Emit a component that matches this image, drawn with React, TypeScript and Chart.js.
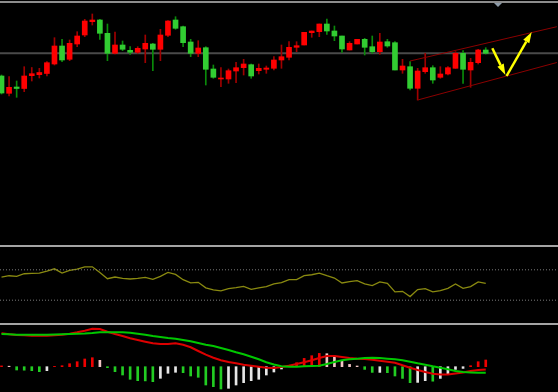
import React, { useEffect, useRef } from "react";
import { Chart, registerables } from "chart.js";
Chart.register(...registerables);

// ---- price candles (index points) ----
const opens = [1174, 1156.7, 1163, 1161.5, 1174.3, 1175.3, 1176.5, 1186, 1204, 1190.7,
  1206, 1215, 1228.3, 1230, 1216.7, 1196.7, 1205, 1199.7, 1197.7, 1201,
  1206, 1200.7, 1214.7, 1230, 1223.3, 1208, 1196.7, 1202.3, 1181, 1171,
  1171, 1179, 1182.3, 1185.3, 1179.3, 1180.7, 1181.7, 1190, 1192.7, 1202.7,
  1205, 1217.3, 1218.3, 1226, 1219, 1214, 1200, 1206, 1210.7, 1203.3,
  1198.3, 1208.3, 1207.3, 1180, 1183.3, 1161.7, 1178.3, 1182.3, 1172.7, 1176,
  1181.7, 1196.7, 1180, 1187.3, 1200];
const closes = [1157, 1162.7, 1161.5, 1174, 1176.3, 1177.5, 1187.3, 1204, 1190, 1206.7,
  1214, 1229, 1230, 1216.7, 1196.7, 1205, 1200.7, 1197.7, 1201.7, 1206.7,
  1200.7, 1215, 1229, 1221.7, 1207.3, 1196.7, 1202, 1180.7, 1172.7, 1172,
  1179.3, 1182.3, 1186, 1174, 1181.7, 1182, 1190, 1193.3, 1202.7, 1204.3,
  1217.7, 1219, 1226, 1219, 1214, 1201, 1206.7, 1210.7, 1202.7, 1198.3,
  1208, 1204, 1180, 1184, 1161.7, 1179, 1182.3, 1170, 1176, 1182.3,
  1196.7, 1180.7, 1187.7, 1200, 1196.7];
const highs = [1175, 1173.5, 1169, 1183.3, 1182.5, 1181.7, 1188.3, 1212.3, 1210.7, 1210,
  1218.3, 1230.7, 1236, 1230.7, 1226, 1218, 1209, 1203.3, 1203.3, 1215,
  1206.7, 1220.7, 1229.3, 1233.3, 1224, 1210.7, 1209.3, 1203.3, 1185, 1182.3,
  1181, 1187.7, 1190.7, 1186, 1186, 1184, 1193.3, 1205, 1208.3, 1208.3,
  1217.7, 1219, 1226, 1231, 1224, 1214, 1208.3, 1210.7, 1211.7, 1214,
  1216.7, 1210.7, 1208.3, 1190.7, 1188.3, 1181.7, 1196.7, 1184.3, 1183.3, 1183.3,
  1198.3, 1199.3, 1191.7, 1200.7, 1202.3];
const lows = [1156, 1154, 1152.7, 1158.3, 1169, 1172, 1174, 1185, 1188.3, 1189.3,
  1203.3, 1213.3, 1225, 1210.7, 1189.3, 1196, 1199.3, 1195.7, 1196.7, 1187.3,
  1179.3, 1189.3, 1213.3, 1220.7, 1203.3, 1193.3, 1193.3, 1165, 1171.7, 1163.3,
  1166.7, 1167.3, 1175, 1171.7, 1176, 1176.7, 1180, 1181.7, 1190, 1198.3,
  1205, 1212.7, 1213.3, 1215.7, 1209.3, 1197.7, 1200, 1206, 1195, 1196.7,
  1195.7, 1202.7, 1180, 1176.7, 1160, 1150, 1176.7, 1166.7, 1171.7, 1175,
  1181.7, 1166.7, 1162.7, 1186, 1196];

// ---- RSI ----
const rsiValues = [60.5, 62.2, 61.3, 64.8, 65.2, 65.7, 68.3, 71.3, 65.7, 69.1,
  70.9, 73.9, 73.9, 66.5, 58.3, 60.5, 58.7, 57.9, 58.7, 60,
  57.4, 61.3, 66.5, 63.9, 57, 52.7, 53.5, 46.2, 43.5, 42.2,
  45.2, 46.5, 48.2, 44.3, 46.2, 47.8, 51.4, 53.1, 57, 57,
  62.2, 63.5, 65.7, 62.2, 59.2, 52.7, 54.4, 55.7, 51.4, 49.2,
  54, 52.1, 41, 41.7, 34.8, 43.9, 45.2, 41, 42.6, 45.6,
  51.4, 45.6, 47.8, 54, 52.1];
const rsiLevels = [70, 30];

// ---- MACD ----
const macdHist = [0.8, 0.5, -3.3, -3.5, -4, -5, -4, 0.3, 1, 3,
  5, 7.7, 9, 6.4, -1, -5, -8.3, -12.6, -14, -14.2,
  -15, -11.6, -6.6, -5.6, -6, -9.3, -10.6, -18.3, -20, -22.3,
  -21.6, -18.3, -16, -14, -12.6, -8.3, -5.3, -2.3, 1.5, 4,
  8.3, 11, 13.3, 13, 10.7, 6, 2.3, 0.7, -2.7, -5.7,
  -5.7, -6, -9.3, -11.7, -16, -15.7, -14, -14.5, -11.7, -7.7,
  -2.7, -1.7, 1, 5, 6.7];
const macdMain = [33.4, 32.4, 31.7, 31.4, 31, 31, 31, 31.4, 32, 33,
  34.4, 36, 38, 37.7, 35, 32.7, 30.7, 28.4, 26.7, 25,
  23.4, 22.7, 22.7, 23.4, 22, 19.4, 15.7, 12, 9, 6.4,
  4.7, 3.4, 2, 1, 0, -1, -1.3, -0.3, 1, 2.7,
  4.4, 6.4, 8.7, 10.7, 10.7, 9.7, 8.7, 8, 7.7, 7,
  6, 5, 4, 1.4, -1, -3.3, -5.3, -7, -7.7, -7.7,
  -6.7, -5.7, -4.3, -3.3, -2.7];
const macdSignal = [32.7, 32.4, 32, 32, 32, 32, 32, 32.2, 32.4, 32.7,
  32.9, 33.2, 33.7, 34.4, 34.4, 34.4, 34.4, 34, 33, 32,
  30.7, 29.7, 28.7, 28, 26.7, 25.4, 23.7, 22, 20.7, 18.7,
  16.7, 14.4, 12.4, 10, 7.4, 4.4, 2.2, 0.4, 0, 0,
  0.4, 0.7, 1, 2.7, 4.7, 6.4, 7.4, 8, 8.7, 9,
  8.7, 8, 7.4, 6.4, 5, 3.4, 2, 0.4, -1, -2.6,
  -4.3, -5.3, -5.7, -6, -6];

// ---- drawn objects (bar index, price) ----
const channelUpper = [{ x: 54, y: 1189 }, { x: 73.4, y: 1223.3 }];
const channelLower = [{ x: 55, y: 1150 }, { x: 73.4, y: 1187.5 }];
const arrowDown = [{ x: 64.87, y: 1201.7 }, { x: 66.6, y: 1175 }];
const arrowUp = [{ x: 66.75, y: 1174 }, { x: 70.08, y: 1218 }];

const X_MIN = -0.2;
const X_MAX = 73.55;
const PRICE_MIN = 1005;
const PRICE_MAX = 1247;

const RED = "#ff0000";
const GREEN = "#32cd32";

const baseOptions = (yMin: number, yMax: number) => ({
  responsive: false,
  animation: false as const,
  devicePixelRatio: 1,
  events: [] as any[],
  layout: { padding: 0 },
  plugins: { legend: { display: false }, tooltip: { enabled: false } },
  scales: {
    x: { type: "linear" as const, min: X_MIN, max: X_MAX, display: false, offset: false, bounds: "data" as const },
    y: { type: "linear" as const, min: yMin, max: yMax, display: false, bounds: "data" as const },
  },
});

const arrowPlugin = {
  id: "arrows",
  afterDatasetsDraw(chart: any) {
    const { ctx } = chart;
    const xs = chart.scales.x;
    const ys = chart.scales.y;
    [arrowDown, arrowUp].forEach((seg) => {
      const x1 = xs.getPixelForValue(seg[0].x);
      const y1 = ys.getPixelForValue(seg[0].y);
      const x2 = xs.getPixelForValue(seg[1].x);
      const y2 = ys.getPixelForValue(seg[1].y);
      const ang = Math.atan2(y2 - y1, x2 - x1);
      const headLen = 11;
      const headW = 3.5;
      const bx = x2 - Math.cos(ang) * headLen;
      const by = y2 - Math.sin(ang) * headLen;
      ctx.save();
      ctx.strokeStyle = "#ffff00";
      ctx.fillStyle = "#ffff00";
      ctx.lineWidth = 2.5;
      ctx.beginPath();
      ctx.moveTo(x1, y1);
      ctx.lineTo(bx, by);
      ctx.stroke();
      ctx.beginPath();
      ctx.moveTo(x2, y2);
      ctx.lineTo(bx + Math.sin(ang) * headW, by - Math.cos(ang) * headW);
      ctx.lineTo(bx - Math.sin(ang) * headW, by + Math.cos(ang) * headW);
      ctx.closePath();
      ctx.fill();
      ctx.restore();
    });
  },
};

function PriceChart() {
  const ref = useRef<HTMLCanvasElement>(null);
  useEffect(() => {
    const up = opens.map((o, i) => closes[i] >= o);
    const lastClose = closes[closes.length - 1];
    const chart = new Chart(ref.current!, {
      type: "bar",
      data: {
        datasets: [
          {
            type: "line",
            data: channelUpper,
            borderColor: "#8b0000",
            borderWidth: 1,
            pointRadius: 0,
            order: -1,
          } as any,
          {
            type: "line",
            data: channelLower,
            borderColor: "#8b0000",
            borderWidth: 1,
            pointRadius: 0,
            order: -1,
          } as any,
          {
            type: "bar",
            data: opens.map((o, i) => ({ x: i, y: [Math.min(o, closes[i]), Math.max(o, closes[i])] })),
            backgroundColor: up.map((u) => (u ? RED : GREEN)),
            borderWidth: 0,
            barThickness: 5,
            minBarLength: 1,
            grouped: false,
            order: 1,
          } as any,
          {
            type: "bar",
            data: lows.map((l, i) => ({ x: i, y: [l, highs[i]] })),
            backgroundColor: up.map((u) => (u ? "#a00000" : "#0a8a0a")),
            borderWidth: 0,
            barThickness: 1,
            grouped: false,
            order: 2,
          } as any,
          {
            type: "line",
            data: [{ x: X_MIN, y: lastClose }, { x: X_MAX, y: lastClose }],
            borderColor: "#4a4a4a",
            borderWidth: 2,
            pointRadius: 0,
            order: 3,
          } as any,
        ],
      },
      options: baseOptions(PRICE_MIN, PRICE_MAX) as any,
      plugins: [arrowPlugin],
    });
    return () => chart.destroy();
  }, []);
  return <canvas ref={ref} width={558} height={242} style={{ position: "absolute", left: 0, top: 3, display: "block" }} />;
}

function RsiChart() {
  const ref = useRef<HTMLCanvasElement>(null);
  useEffect(() => {
    const chart = new Chart(ref.current!, {
      type: "line",
      data: {
        datasets: [
          ...rsiLevels.map((lv) => ({
            data: [{ x: X_MIN, y: lv }, { x: X_MAX, y: lv }],
            borderColor: "#7a7a7a",
            borderWidth: 1,
            borderDash: [1, 2],
            pointRadius: 0,
          })),
          {
            data: rsiValues.map((v, i) => ({ x: i, y: v })),
            borderColor: "#8a8a10",
            borderWidth: 1.3,
            pointRadius: 0,
          },
        ],
      },
      options: baseOptions(0, 100) as any,
    });
    return () => chart.destroy();
  }, []);
  return <canvas ref={ref} width={558} height={76} style={{ position: "absolute", left: 0, top: 247, display: "block" }} />;
}

function MacdChart() {
  const ref = useRef<HTMLCanvasElement>(null);
  useEffect(() => {
    const colors = macdHist.map((v, i) => {
      const prev = i > 0 ? macdHist[i - 1] : 0;
      if (v < 0) return v < prev ? "#22cc22" : "#e6e6e6";
      return v > prev ? "#ee0000" : "#f2c4c4";
    });
    const chart = new Chart(ref.current!, {
      type: "bar",
      data: {
        datasets: [
          {
            type: "line",
            data: macdSignal.map((v, i) => ({ x: i, y: v })),
            borderColor: "#00c800",
            borderWidth: 2,
            pointRadius: 0,
            order: 0,
          } as any,
          {
            type: "line",
            data: macdMain.map((v, i) => ({ x: i, y: v })),
            borderColor: "#dd0000",
            borderWidth: 2,
            pointRadius: 0,
            order: 1,
          } as any,
          {
            type: "bar",
            data: macdHist.map((v, i) => ({ x: i, y: v })),
            backgroundColor: colors,
            borderWidth: 0,
            barThickness: 2,
            grouped: false,
            order: 2,
          } as any,
        ],
      },
      options: baseOptions(-25.3, 41.7) as any,
    });
    return () => chart.destroy();
  }, []);
  return <canvas ref={ref} width={558} height={67} style={{ position: "absolute", left: 0, top: 325, display: "block" }} />;
}

export default function App() {
  const line = (top: number, color: string) => (
    <div style={{ position: "absolute", left: 0, top, width: 558, height: 2, background: color }} />
  );
  return (
    <div style={{ position: "fixed", left: 0, top: 0, width: 558, height: 392, background: "#000", overflow: "hidden" }}>
      {line(1, "#8c8c8c")}
      <PriceChart />
      {line(245, "#a4a4a4")}
      <RsiChart />
      {line(323, "#a4a4a4")}
      <MacdChart />
      <div
        style={{
          position: "absolute",
          left: 494,
          top: 3,
          width: 0,
          height: 0,
          borderLeft: "4.5px solid transparent",
          borderRight: "4.5px solid transparent",
          borderTop: "4px solid #8c9aa8",
        }}
      />
    </div>
  );
}
